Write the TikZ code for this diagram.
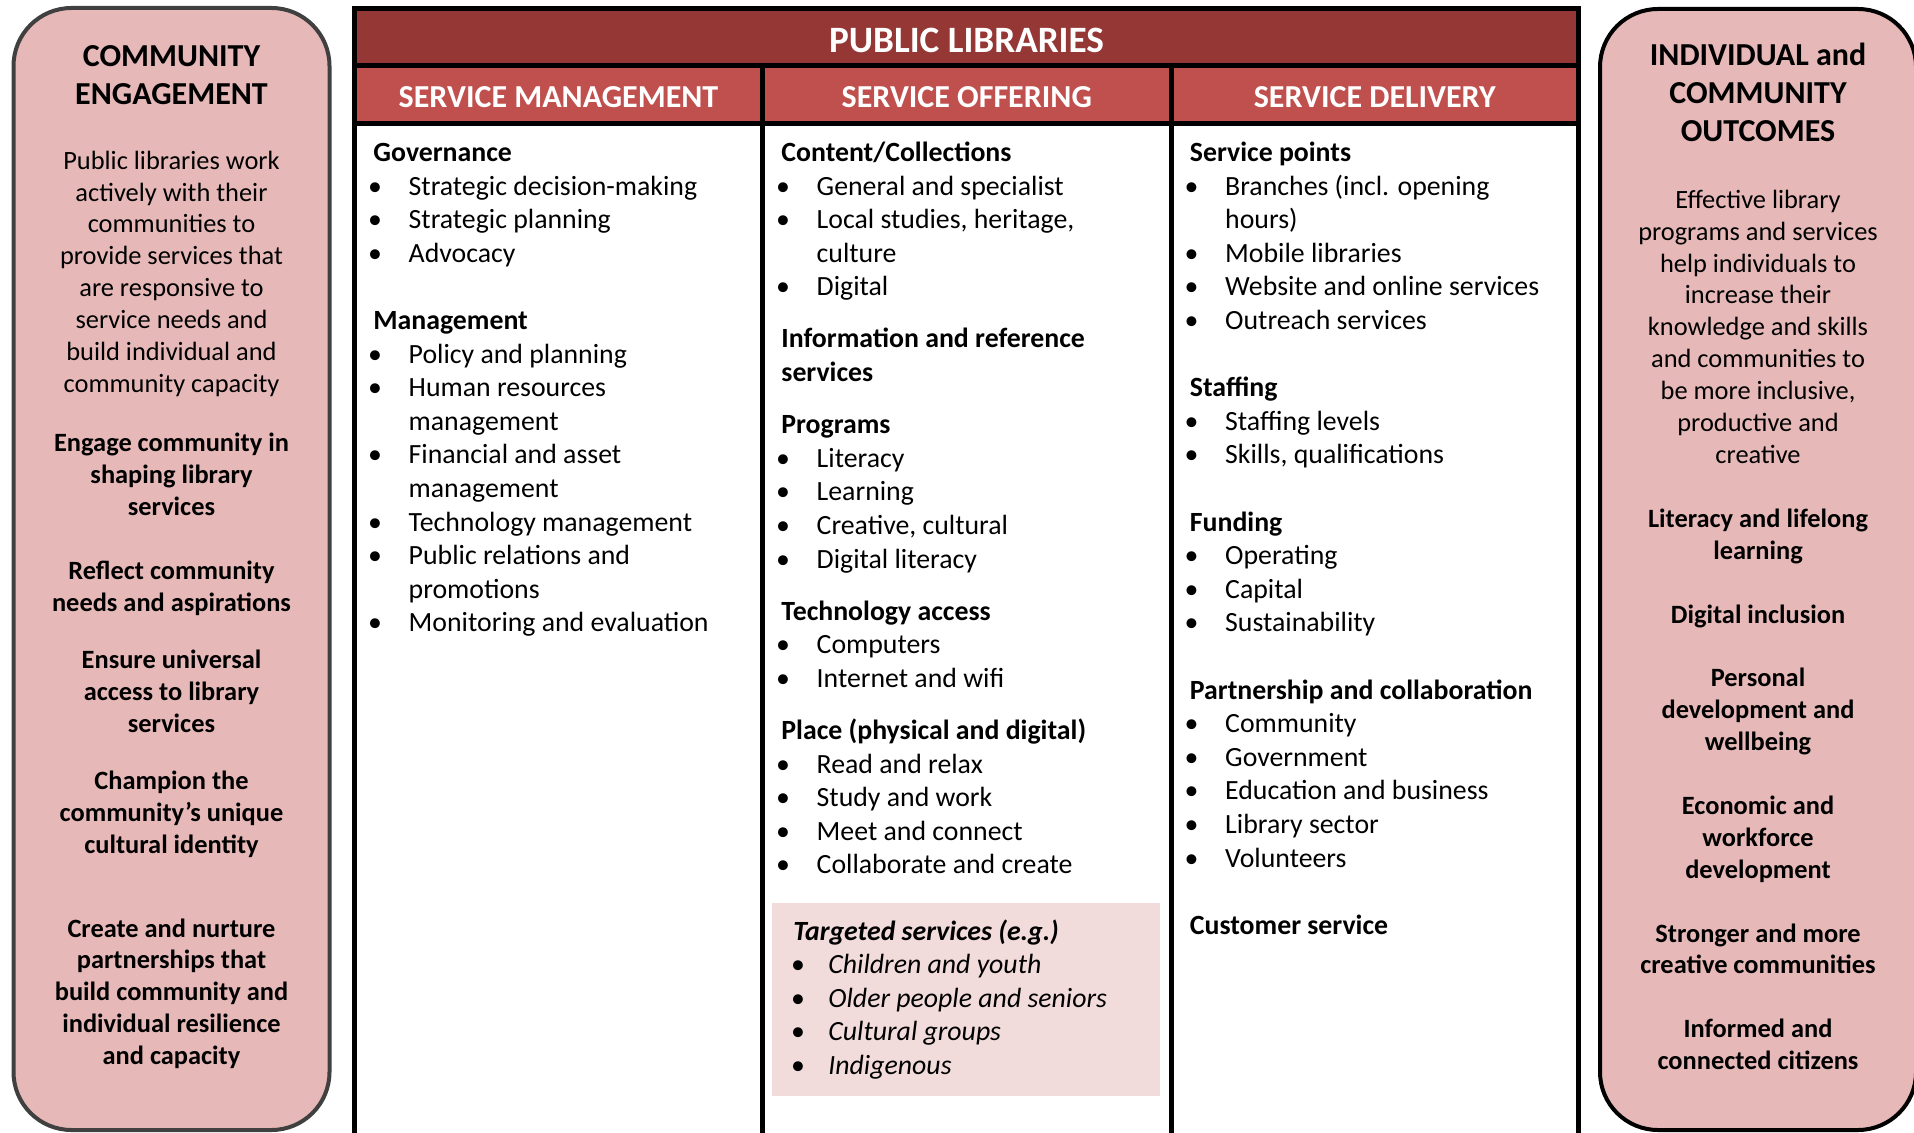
\documentclass[tikz,border=0pt]{standalone}
\usepackage{fontspec}
\setmainfont{Carlito}
\definecolor{hdrdark}{RGB}{149,55,53}
\definecolor{hdrmid}{RGB}{192,80,77}
\definecolor{sidepink}{RGB}{230,185,184}
\definecolor{tgtpink}{RGB}{242,220,219}
\definecolor{leftedge}{RGB}{64,64,64}
\newcount\lnum
\newcommand\nid{\global\advance\lnum by 1\relax}
% column lines: #1 heading x, #2 first baseline, #3 line number, #4 text
\newcommand\CH[4]{\nid\node[hd] (l\the\lnum) at (#1,{#2+#3*33.6}) {#4};}
\newcommand\CB[4]{\nid\node[bul] (b\the\lnum) at ({#1+2},{#2+#3*33.6}) {•};\node[tx] (l\the\lnum) at ({#1+35.3},{#2+#3*33.6}) {#4};}
\newcommand\CC[4]{\nid\node[tx] (l\the\lnum) at ({#1+35.3},{#2+#3*33.6}) {#4};}
% side box lines: #1 style, #2 x, #3 baseline, #4 text
\newcommand\SL[4]{\nid\node[#1] (s\the\lnum) at (#2,#3) {#4};}
\begin{document}
\begin{tikzpicture}[x=0.5pt,y=-0.5pt,
  hd/.style={anchor=base west,inner sep=0pt,font=\fontsize{13.9}{16.8}\selectfont\bfseries},
  tx/.style={anchor=base west,inner sep=0pt,font=\fontsize{13.9}{16.8}\selectfont},
  bul/.style={anchor=base,inner sep=0pt,font=\fontsize{13.9}{16.8}\selectfont},
  tghd/.style={anchor=base west,inner sep=0pt,font=\fontsize{13.9}{16.8}\selectfont\bfseries\itshape},
  tgtx/.style={anchor=base west,inner sep=0pt,font=\fontsize{13.9}{16.8}\selectfont\itshape},
  stitle/.style={anchor=base,inner sep=0pt,font=\fontsize{16}{19.5}\selectfont\bfseries},
  sbody/.style={anchor=base,inner sep=0pt,font=\fontsize{13.2}{16}\selectfont},
  sbold/.style={anchor=base,inner sep=0pt,font=\fontsize{13.2}{16}\selectfont\bfseries},
  hdrtext/.style={inner sep=0pt,text=white,font=\fontsize{18.6}{22}\selectfont\bfseries},
  subtext/.style={inner sep=0pt,text=white,font=\fontsize{16}{19.5}\selectfont\bfseries},
  sidebox/.style={fill=sidepink,line width=2pt,rounded corners=29pt},
  grid/.style={line width=2.5pt,black}]
\useasboundingbox (0,0) rectangle (1914,1133);
\fill[white] (0,0) rectangle (1914,1133);

% side boxes
\draw[sidebox,draw=leftedge] (13.5,8) rectangle (329.5,1130);
\draw[sidebox,draw=black] (1600,9) rectangle (1916,1130);

% table fills
\fill[hdrdark] (354.5,9) rectangle (1578.5,65.5);
\fill[hdrmid] (354.5,65.5) rectangle (1578.5,123.5);
\fill[tgtpink] (772,903) rectangle (1160,1096);

% table lines
\draw[grid] (354.5,1135) -- (354.5,9) -- (1578.5,9) -- (1578.5,1135) -- cycle;
\draw[grid] (354.5,65.5) -- (1578.5,65.5);
\draw[grid] (354.5,123.5) -- (1578.5,123.5);
\draw[grid] (762.5,65.5) -- (762.5,1135);
\draw[grid] (1171,65.5) -- (1171,1135);

\begin{scope}[shift={(0,2.5)}]
% headers
\node[hdrtext] (pl) at (966.5,37.5) {PUBLIC LIBRARIES};
\node[subtext] (sm) at (558.5,95) {SERVICE MANAGEMENT};
\node[subtext] (so) at (966.75,95) {SERVICE OFFERING};
\node[subtext] (sd) at (1374.75,95) {SERVICE DELIVERY};

% column 1
\CH{373}{159}{0}{Governance}
\CB{373}{159}{1}{Strategic decision-making}
\CB{373}{159}{2}{Strategic planning}
\CB{373}{159}{3}{Advocacy}
\CH{373}{159}{5}{Management}
\CB{373}{159}{6}{Policy and planning}
\CB{373}{159}{7}{Human resources}
\CC{373}{159}{8}{management}
\CB{373}{159}{9}{Financial and asset}
\CC{373}{159}{10}{management}
\CB{373}{159}{11}{Technology management}
\CB{373}{159}{12}{Public relations and}
\CC{373}{159}{13}{promotions}
\CB{373}{159}{14}{Monitoring and evaluation}

% column 2
\CH{781}{159}{0}{Content/Collections}
\CB{781}{159}{1}{General and specialist}
\CB{781}{159}{2}{Local studies, heritage,}
\CC{781}{159}{3}{culture}
\CB{781}{159}{4}{Digital}
\CH{781}{159}{5.55}{Information and reference}
\CH{781}{159}{6.55}{services}
\CH{781}{159}{8.1}{Programs}
\CB{781}{159}{9.1}{Literacy}
\CB{781}{159}{10.1}{Learning}
\CB{781}{159}{11.1}{Creative, cultural}
\CB{781}{159}{12.1}{Digital literacy}
\CH{781}{159}{13.65}{Technology access}
\CB{781}{159}{14.65}{Computers}
\CB{781}{159}{15.65}{Internet and wifi}
\CH{781}{159}{17.2}{Place (physical and digital)}
\CB{781}{159}{18.2}{Read and relax}
\CB{781}{159}{19.2}{Study and work}
\CB{781}{159}{20.2}{Meet and connect}
\CB{781}{159}{21.2}{Collaborate and create}
% targeted services
\node[tghd] (tg0) at (793,937.5) {Targeted services (e.g.)};
\node[bul] (tgb1) at (798,971.1) {•};
\node[tgtx] (tg1) at (828,971.1) {Children and youth};
\node[bul] (tgb2) at (798,1004.7) {•};
\node[tgtx] (tg2) at (828,1004.7) {Older people and seniors};
\node[bul] (tgb3) at (798,1038.3) {•};
\node[tgtx] (tg3) at (828,1038.3) {Cultural groups};
\node[bul] (tgb4) at (798,1071.9) {•};
\node[tgtx] (tg4) at (828,1071.9) {Indigenous};

% column 3
\CH{1189.5}{159}{0}{Service points}
\CB{1189.5}{159}{1}{Branches (incl. opening}
\CC{1189.5}{159}{2}{hours)}
\CB{1189.5}{159}{3}{Mobile libraries}
\CB{1189.5}{159}{4}{Website and online services}
\CB{1189.5}{159}{5}{Outreach services}
\CH{1189.5}{159}{7}{Staffing}
\CB{1189.5}{159}{8}{Staffing levels}
\CB{1189.5}{159}{9}{Skills, qualifications}
\CH{1189.5}{159}{11}{Funding}
\CB{1189.5}{159}{12}{Operating}
\CB{1189.5}{159}{13}{Capital}
\CB{1189.5}{159}{14}{Sustainability}
\CH{1189.5}{159}{16}{Partnership and collaboration}
\CB{1189.5}{159}{17}{Community}
\CB{1189.5}{159}{18}{Government}
\CB{1189.5}{159}{19}{Education and business}
\CB{1189.5}{159}{20}{Library sector}
\CB{1189.5}{159}{21}{Volunteers}
\CH{1189.5}{159}{23}{Customer service}

% left box
\SL{stitle}{171.5}{64}{COMMUNITY}
\SL{stitle}{171.5}{102}{ENGAGEMENT}
\SL{sbody}{171.5}{166.7}{Public libraries work}
\SL{sbody}{171.5}{198.6}{actively with their}
\SL{sbody}{171.5}{230.5}{communities to}
\SL{sbody}{171.5}{262.4}{provide services that}
\SL{sbody}{171.5}{294.3}{are responsive to}
\SL{sbody}{171.5}{326.2}{service needs and}
\SL{sbody}{171.5}{358.1}{build individual and}
\SL{sbody}{171.5}{390}{community capacity}
\SL{sbold}{171.5}{448.7}{Engage community in}
\SL{sbold}{171.5}{480.6}{shaping library}
\SL{sbold}{171.5}{512.5}{services}
\SL{sbold}{171.5}{577}{Reflect community}
\SL{sbold}{171.5}{608.9}{needs and aspirations}
\SL{sbold}{171.5}{666}{Ensure universal}
\SL{sbold}{171.5}{697.9}{access to library}
\SL{sbold}{171.5}{729.8}{services}
\SL{sbold}{171.5}{786.8}{Champion the}
\SL{sbold}{171.5}{818.7}{community’s unique}
\SL{sbold}{171.5}{850.6}{cultural identity}
\SL{sbold}{171.5}{934.5}{Create and nurture}
\SL{sbold}{171.5}{966.4}{partnerships that}
\SL{sbold}{171.5}{998.3}{build community and}
\SL{sbold}{171.5}{1030.2}{individual resilience}
\SL{sbold}{171.5}{1062.1}{and capacity}

% right box
\SL{stitle}{1758}{63.5}{INDIVIDUAL and}
\SL{stitle}{1758}{101.5}{COMMUNITY}
\SL{stitle}{1758}{139.5}{OUTCOMES}
\SL{sbody}{1758}{205.8}{Effective library}
\SL{sbody}{1758}{237.7}{programs and services}
\SL{sbody}{1758}{269.6}{help individuals to}
\SL{sbody}{1758}{301.5}{increase their}
\SL{sbody}{1758}{333.4}{knowledge and skills}
\SL{sbody}{1758}{365.3}{and communities to}
\SL{sbody}{1758}{397.2}{be more inclusive,}
\SL{sbody}{1758}{429.1}{productive and}
\SL{sbody}{1758}{461}{creative}
\SL{sbold}{1758}{524.8}{Literacy and lifelong}
\SL{sbold}{1758}{556.7}{learning}
\SL{sbold}{1758}{620.5}{Digital inclusion}
\SL{sbold}{1758}{684.3}{Personal}
\SL{sbold}{1758}{716.2}{development and}
\SL{sbold}{1758}{748.1}{wellbeing}
\SL{sbold}{1758}{811.9}{Economic and}
\SL{sbold}{1758}{843.8}{workforce}
\SL{sbold}{1758}{875.7}{development}
\SL{sbold}{1758}{939.5}{Stronger and more}
\SL{sbold}{1758}{971.4}{creative communities}
\SL{sbold}{1758}{1035.2}{Informed and}
\SL{sbold}{1758}{1067.1}{connected citizens}
\end{scope}
\end{tikzpicture}
\end{document}
